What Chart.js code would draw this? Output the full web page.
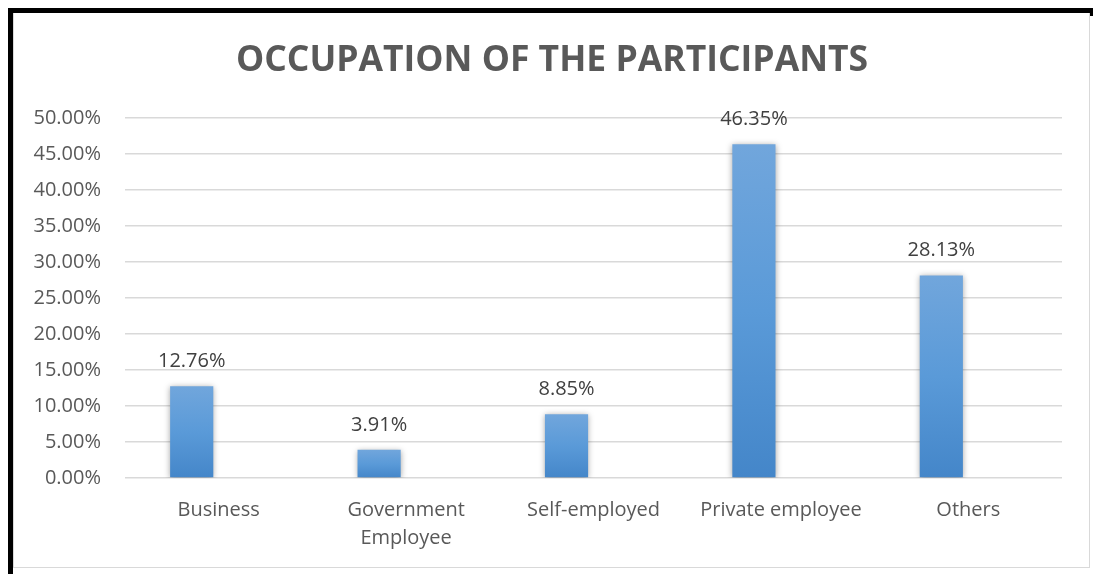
<!DOCTYPE html>
<html>
<head>
<meta charset="utf-8">
<script src="https://cdn.jsdelivr.net/npm/chart.js@4.4.1/dist/chart.umd.min.js"></script>
<style>
  html, body { margin: 0; padding: 0; background: #fff; }
  #wrap { position: relative; width: 1095px; height: 574px; overflow: hidden; }
  #frame {
    position: absolute; left: 8px; top: 8px; width: 1085px; height: 580px;
    border-top: 5px solid #000; border-left: 5px solid #000; box-sizing: border-box;
  }
  #frameRight { position: absolute; left: 1090px; top: 8px; width: 3px; height: 8px; background: #000; }
  #inner {
    position: absolute; left: 13px; top: 13px; width: 1077px; height: 555px;
    border: 1px solid #d9d9d9; border-top: none; box-sizing: border-box;
  }
  canvas { position: absolute; left: 0; top: 0; }
</style>
</head>
<body>
<div id="wrap">
  <div id="inner"></div>
  <div id="frame"></div>
  <div id="frameRight"></div>
  <canvas id="chartOcupacao" width="1095" height="574"></canvas>
</div>
<script>
// ===== Dados =====
const titulo = 'OCCUPATION OF THE PARTICIPANTS';
const categorias = ['Business', ['Government', 'Employee'], 'Self-employed', 'Private employee', 'Others'];
const percentuais = [12.76, 3.91, 8.85, 46.35, 28.13];
const serieVazia = [null, null, null, null, null];
const ticksY = [0, 5, 10, 15, 20, 25, 30, 35, 40, 45, 50];

const FONT = "'Open Sans', 'Noto Sans', sans-serif";

// gradiente por barra (claro em cima, escuro embaixo)
function barGradient(ctx) {
  const chart = ctx.chart;
  if (!chart.chartArea || ctx.raw == null) return '#5b9bd5';
  const y = chart.scales.y;
  const top = y.getPixelForValue(ctx.raw);
  const bottom = y.getPixelForValue(0);
  const g = chart.ctx.createLinearGradient(0, top, 0, bottom);
  g.addColorStop(0, '#71a6dc');
  g.addColorStop(0.5, '#5a9ad8');
  g.addColorStop(1, '#4486c9');
  return g;
}

// sombra suave nas barras
const barShadow = {
  id: 'barShadow',
  beforeDatasetsDraw(chart) {
    const c = chart.ctx;
    c.save();
    c.shadowColor = 'rgba(0,0,0,0.35)';
    c.shadowBlur = 6;
    c.shadowOffsetX = 0;
    c.shadowOffsetY = 1;
  },
  afterDatasetsDraw(chart) {
    chart.ctx.restore();
  }
};

// título centralizado no quadro inteiro
const tituloCentral = {
  id: 'tituloCentral',
  afterDraw(chart) {
    const c = chart.ctx;
    c.save();
    c.font = `bold 35.5px ${FONT}`;
    c.fillStyle = '#595959';
    c.textAlign = 'center';
    c.textBaseline = 'middle';
    c.fillText(titulo, 552, 61);
    c.restore();
  }
};

// rótulos de valor acima das barras
const valueLabels = {
  id: 'valueLabels',
  afterDraw(chart) {
    const c = chart.ctx;
    const meta = chart.getDatasetMeta(0);
    c.save();
    c.font = `20px ${FONT}`;
    c.fillStyle = '#404040';
    c.textAlign = 'center';
    c.textBaseline = 'middle';
    meta.data.forEach((bar, i) => {
      c.fillText(percentuais[i].toFixed(2) + '%', bar.x, bar.y - 25);
    });
    c.restore();
  }
};

new Chart(document.getElementById('chartOcupacao'), {
  type: 'bar',
  data: {
    labels: categorias,
    datasets: [
      {
        label: 'Occupation',
        data: percentuais,
        backgroundColor: barGradient,
        borderWidth: 0,
        categoryPercentage: 0.576,
        barPercentage: 0.8
      },
      {
        label: '',
        data: serieVazia,
        backgroundColor: '#ed7d31',
        categoryPercentage: 0.576,
        barPercentage: 0.8
      }
    ]
  },
  options: {
    responsive: false,
    animation: false,
    layout: {
      padding: { left: 13, right: 33, top: 118, bottom: 6 }
    },
    plugins: {
      legend: { display: false },
      tooltip: { enabled: false },
      title: { display: false }
    },
    scales: {
      y: {
        min: 0,
        max: 50,
        afterBuildTicks: scale => {
          scale.ticks = ticksY.map(v => ({ value: v }));
        },
        afterFit: scale => { scale.width = 112; },
        border: { display: false },
        grid: {
          color: '#d9d9d9',
          lineWidth: 1.5,
          drawTicks: false
        },
        ticks: {
          color: '#595959',
          padding: 24,
          font: { family: FONT, size: 20 },
          callback: v => v.toFixed(2) + '%'
        }
      },
      x: {
        afterFit: scale => { scale.height = 90; },
        border: { display: false },
        grid: { display: false },
        ticks: {
          color: '#595959',
          padding: 10,
          maxRotation: 0,
          autoSkip: false,
          font: { family: FONT, size: 20, lineHeight: 1.4 }
        }
      }
    }
  },
  plugins: [barShadow, valueLabels, tituloCentral]
});
</script>
</body>
</html>
